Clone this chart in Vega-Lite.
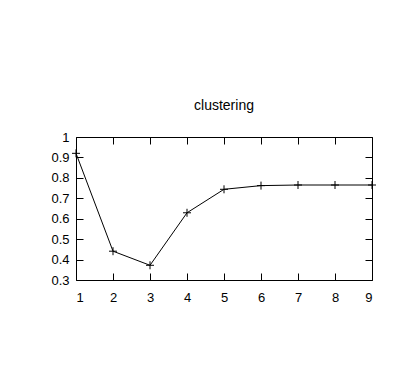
{
  "$schema": "https://vega.github.io/schema/vega-lite/v6.json",
  "autosize": "none",
  "width": 296,
  "height": 143,
  "padding": {"left": 76, "top": 137, "right": 26, "bottom": 112},
  "background": "white",
  "title": {"text": "clustering", "fontSize": 14, "font": "Liberation Sans", "fontWeight": "normal", "color": "black", "offset": 18},
  "config": {
    "view": {"stroke": "black", "strokeWidth": 1},
    "axis": {"domain": false, "grid": false, "tickColor": "black", "tickSize": -7, "labelFont": "Liberation Sans", "labelFontSize": 13, "labelColor": "black", "title": null}
  },
  "data": {"values": [
    {"k": 1, "clustering": 0.92},
    {"k": 2, "clustering": 0.441},
    {"k": 3, "clustering": 0.372},
    {"k": 4, "clustering": 0.629},
    {"k": 5, "clustering": 0.744},
    {"k": 6, "clustering": 0.762},
    {"k": 7, "clustering": 0.765},
    {"k": 8, "clustering": 0.765},
    {"k": 9, "clustering": 0.765}
  ]},
  "layer": [
    {
      "mark": {"type": "line", "color": "black", "strokeWidth": 1},
      "encoding": {
        "x": {"field": "k", "type": "quantitative", "scale": {"domain": [1, 9], "nice": false, "zero": false}, "axis": {"values": [1,2,3,4,5,6,7,8,9], "labelPadding": 18, "format": "d"}},
        "y": {"field": "clustering", "type": "quantitative", "scale": {"domain": [0.3, 1], "nice": false, "zero": false}, "axis": {"values": [0.3,0.4,0.5,0.6,0.7,0.8,0.9,1], "labelPadding": 14, "format": "~g"}}
      }
    },
    {
      "mark": {"type": "point", "shape": "M-1,0L1,0M0,-1L0,1", "size": 64, "filled": false, "stroke": "black", "strokeWidth": 1, "opacity": 1, "clip": false},
      "encoding": {
        "x": {"field": "k", "type": "quantitative", "axis": {"orient": "top", "values": [1,2,3,4,5,6,7,8,9], "labels": false}},
        "y": {"field": "clustering", "type": "quantitative", "axis": {"orient": "right", "values": [0.3,0.4,0.5,0.6,0.7,0.8,0.9,1], "labels": false}}
      }
    }
  ],
  "resolve": {"axis": {"x": "independent", "y": "independent"}}
}
